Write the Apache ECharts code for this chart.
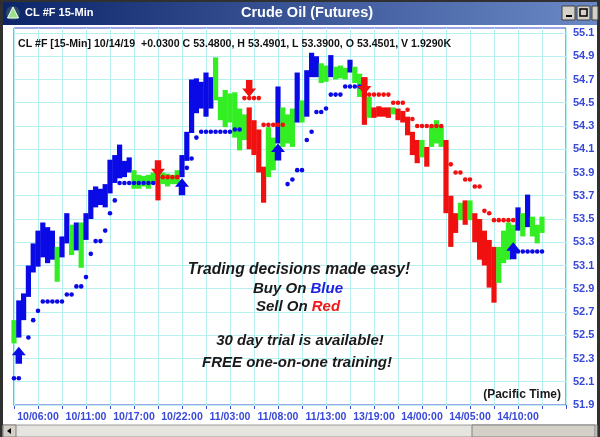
<!DOCTYPE html>
<html><head><meta charset="utf-8">
<script src="https://cdn.jsdelivr.net/npm/echarts@6/dist/echarts.min.js"></script>
<style>html,body{margin:0;padding:0;background:#fff;overflow:hidden}#c{width:600px;height:437px}</style>
</head><body><div id="c"></div>
<script>
// ---- data (30-minute bars) ----
const xTickLabels = ['10/06:00','10/11:00','10/17:00','10/22:00','11/03:00','11/08:00','11/13:00','13/19:00','14/00:00','14/05:00','14/10:00'];
const yTicks = [51.9,52.1,52.3,52.5,52.7,52.9,53.1,53.3,53.5,53.7,53.9,54.1,54.3,54.5,54.7,54.9,55.1];
const yMin = 51.9, yMax = 55.143;
const slotCount = 116;

const barLow = [
 52.43,52.48,52.63,52.83,53.04,53.09,53.17,53.12,53.15,52.96,
 53.17,53.29,53.19,53.23,53.08,53.32,53.50,53.60,53.62,53.60,
 53.72,53.81,53.85,53.86,53.90,53.76,53.76,53.78,53.76,53.80,
 53.66,53.80,53.78,53.80,53.80,53.86,54.00,54.24,54.41,54.45,
 54.38,54.45,54.52,54.35,54.29,54.33,54.20,54.09,54.18,54.10,
 54.05,53.90,53.64,53.86,53.92,54.15,54.12,54.15,54.12,54.33,
 54.33,54.38,54.72,54.72,54.67,54.68,54.72,54.70,54.71,54.70,
 54.76,54.67,54.55,54.31,54.37,54.37,54.38,54.38,54.37,54.40,
 54.35,54.33,54.22,54.05,53.98,54.03,53.95,54.12,54.15,54.12,
 53.55,53.26,53.38,53.49,53.45,53.49,53.30,53.15,53.10,52.91,
 52.78,52.95,53.12,53.15,53.20,53.40,53.35,53.43,53.35,53.29,53.38];
const barHigh = [
 52.63,52.80,52.86,53.10,53.29,53.40,53.47,53.43,53.40,53.26,
 53.35,53.55,53.45,53.47,53.47,53.55,53.75,53.78,53.76,53.80,
 54.01,54.05,54.14,54.00,54.03,53.92,53.88,53.87,53.88,53.90,
 53.92,53.90,53.89,53.88,53.92,54.05,54.25,54.70,54.71,54.68,
 54.76,54.72,54.89,54.55,54.61,54.58,54.59,54.45,54.40,54.46,
 54.35,54.27,53.95,54.29,54.20,54.64,54.46,54.40,54.45,54.76,
 54.52,54.78,54.93,54.90,54.84,54.82,54.91,54.81,54.82,54.80,
 54.87,54.81,54.75,54.72,54.55,54.46,54.47,54.46,54.46,54.46,
 54.45,54.43,54.38,54.25,54.18,54.18,54.12,54.30,54.35,54.30,
 54.18,53.70,53.55,53.64,53.66,53.66,53.55,53.50,53.40,53.32,
 53.26,53.26,53.40,53.47,53.45,53.60,53.55,53.71,53.52,53.45,53.52];
const barSignal = [
 'g','b','b','b','b','b','b','b','b','g',
 'b','b','g','b','g','b','b','b','b','b',
 'b','b','b','b','b','g','g','g','g','g',
 'r','g','g','g','g','b','b','b','b','b',
 'b','b','g','g','g','g','g','g','g','r',
 'r','r','r','g','g','b','g','g','g','b',
 'g','b','b','b','g','g','b','g','g','g',
 'b','g','g','r','g','r','r','r','r','g',
 'r','r','r','r','r','g','r','g','g','g',
 'r','r','r','g','r','g','r','r','r','r',
 'r','g','g','g','g','b','g','b','g','g','g'];
const N = null;
const buyStop = [
 52.13,52.13,N,52.48,52.63,52.71,52.79,52.79,52.79,52.79,
 52.79,52.85,52.85,52.92,52.92,53.00,53.20,53.31,53.31,53.40,
 53.55,53.66,53.81,53.81,53.81,53.81,53.81,53.81,53.81,53.81,
 N,N,N,N,N,N,53.94,54.02,54.20,54.25,
 54.25,54.25,54.25,54.25,54.25,54.25,54.27,54.27,N,N,
 N,N,N,N,N,N,N,53.80,53.84,53.92,
 53.92,54.18,54.25,54.42,54.42,54.45,54.57,54.57,54.57,54.64,
 54.64,54.64,54.64,N,N,N,N,N,N,N,
 N,N,N,N,N,N,N,N,N,N,
 N,N,N,N,N,N,N,N,N,N,
 N,N,N,N,N,53.22,53.22,53.22,53.22,53.22,53.22];
const sellStop = [
 N,N,N,N,N,N,N,N,N,N,
 N,N,N,N,N,N,N,N,N,N,
 N,N,N,N,N,N,N,N,N,N,
 53.86,53.86,53.86,53.86,53.86,N,N,N,N,N,
 N,N,N,N,N,N,N,N,54.54,54.54,
 54.54,54.54,54.31,54.31,54.31,54.31,54.31,N,N,N,
 N,N,N,N,N,N,N,N,N,N,
 N,N,N,N,54.57,54.57,54.57,54.57,54.57,54.50,
 54.50,54.50,54.44,54.36,54.30,54.30,54.30,54.30,54.30,54.30,
 54.11,53.97,53.90,53.90,53.84,53.84,53.78,53.78,53.57,53.55,
 53.49,53.49,53.49,53.49,53.49,N,N,N,N,N,N];
const buyArrowIdx = [1, 35, 55, 104];
const buyArrowVal = [52.40, 53.85, 54.15, 53.30];
const sellArrowIdx = [30, 49, 73];
const sellArrowVal = [53.86, 54.55, 54.57];
const lastClose = 53.48;
const lastStop = 53.22;
const headerText = 'CL #F [15-Min] 10/14/19  +0.0300 C 53.4800, H 53.4901, L 53.3900, O 53.4501, V 1.9290K';

// ---- chart ----
const COL = {b:'#0a0ae6', g:'#33ee22', r:'#f01010'};
const AXIS_BLUE = '#3848d8';
const GRID_CYAN = '#b8f0f2';
const categories = Array.from({length: slotCount}, (_, i) => String(i));
const FONT = '"Liberation Sans", Arial, sans-serif';

const barData = barLow.map((lo, i) => [i, lo, barHigh[i]]);
const toPts = arr => arr.map((v, i) => v == null ? null : [i, v]).filter(Boolean);

const chart = echarts.init(document.getElementById('c'), null, {renderer: 'canvas'});

const UP = 'path://M6.5,0 L13,8 L9.5,8 L9.5,16 L3.5,16 L3.5,8 L0,8 Z';
const DOWN = 'path://M3.5,0 L9.5,0 L9.5,8 L13,8 L6.5,16 L0,8 L3.5,8 Z';

chart.setOption({
  animation: false,
  backgroundColor: '#ffffff',
  grid: {left: 14, right: 34, top: 28, bottom: 32, show: true, borderColor: AXIS_BLUE, borderWidth: 1, backgroundColor: 'transparent'},
  xAxis: {
    type: 'category', data: categories, boundaryGap: false,
    axisLine: {show: true, onZero: false, lineStyle: {color: AXIS_BLUE}},
    axisTick: {show: true, interval: (i) => i % 5 === 0, length: 4, lineStyle: {color: AXIS_BLUE}},
    splitLine: {show: true, interval: (i) => i % 5 === 0, lineStyle: {color: GRID_CYAN, width: 1}},
    axisLabel: {
      interval: (i) => i >= 5 && (i - 5) % 10 === 0,
      formatter: (v, i) => xTickLabels[(i - 5) / 10] || '',
      color: AXIS_BLUE, fontWeight: 'bold', fontSize: 10.5, fontFamily: FONT, margin: 7
    }
  },
  yAxis: {
    type: 'value', position: 'right', min: yMin, max: yMax, scale: true,
    axisLine: {show: false}, axisTick: {show: false}, splitLine: {show: false},
    axisLabel: {customValues: yTicks, formatter: v => v.toFixed(1), color: AXIS_BLUE, fontWeight: 'bold', fontSize: 11, fontFamily: FONT, margin: 7}
  },
  series: [
    {
      type: 'scatter', data: [], silent: true,
      markLine: {silent: true, z: 1, symbol: ['none','none'], label: {show: false},
        lineStyle: {color: GRID_CYAN, type: 'solid', width: 1},
        data: yTicks.map(v => ({yAxis: v}))}
    },
    {
      type: 'custom', z: 3, data: barData, encode: {x: 0, y: [1, 2]},
      renderItem: (params, api) => {
        const i = api.value(0);
        const p1 = api.coord([i, api.value(2)]);
        const p2 = api.coord([i, api.value(1)]);
        const w = api.size([1, 0])[0];
        return {type: 'rect', shape: {x: p1[0] - w / 2 - 0.2, y: p1[1], width: w + 0.4, height: Math.max(p2[1] - p1[1], 2)},
          style: {fill: COL[barSignal[params.dataIndex]]}};
      },
      markLine: {silent: true, symbol: ['none','none'], lineStyle: {opacity: 0},
        data: [
          {yAxis: lastClose, label: {show: true, position: 'end', distance: 1, formatter: lastClose.toFixed(3), backgroundColor: '#44f03a', color: '#8a6ab8', padding: [3, 3, 2, 3], fontSize: 11, fontWeight: 'bold', fontFamily: FONT}},
          {yAxis: lastStop, label: {show: true, position: 'end', distance: 1, formatter: lastStop.toFixed(3), backgroundColor: '#0a0ad8', color: '#ffffff', padding: [3, 3, 2, 3], fontSize: 11, fontWeight: 'bold', fontFamily: FONT}}
        ]}
    },
    {type: 'scatter', z: 4, data: toPts(buyStop), symbol: 'circle', symbolSize: 4.6, itemStyle: {color: COL.b, opacity: 1}, silent: true},
    {type: 'scatter', z: 4, data: toPts(sellStop), symbol: 'circle', symbolSize: 4.6, itemStyle: {color: COL.r, opacity: 1}, silent: true},
    {type: 'scatter', z: 5, data: buyArrowIdx.map((j, k) => [j, buyArrowVal[k]]), symbol: UP, symbolSize: [14, 17], symbolOffset: [0, '50%'], itemStyle: {color: COL.b, opacity: 1}, silent: true},
    {type: 'scatter', z: 5, data: sellArrowIdx.map((j, k) => [j, sellArrowVal[k]]), symbol: DOWN, symbolSize: [14, 17], symbolOffset: [0, '-50%'], itemStyle: {color: COL.r, opacity: 1}, silent: true}
  ],
  graphic: [
    // window frame
    {type: 'rect', shape: {x: 0, y: 0, width: 600, height: 2}, style: {fill: '#303030'}, z: 100},
    {type: 'rect', shape: {x: 0, y: 0, width: 3, height: 437}, style: {fill: '#303030'}, z: 100},
    {type: 'rect', shape: {x: 597, y: 0, width: 3, height: 437}, style: {fill: '#303030'}, z: 100},
    // title bar
    {type: 'rect', shape: {x: 3, y: 2, width: 594, height: 23}, z: 100,
      style: {fill: new echarts.graphic.LinearGradient(0, 0, 1, 0, [{offset: 0, color: '#0c2468'}, {offset: 1, color: '#6a88c6'}])}},
    {type: 'circle', shape: {cx: 13, cy: 13, r: 7}, style: {fill: '#2a4a6a'}, z: 101},
    {type: 'polygon', shape: {points: [[13, 7], [18.5, 18], [7.5, 18]]}, style: {fill: '#9ae08a', stroke: '#ffffff', lineWidth: 1}, z: 102},
    {type: 'text', x: 25, y: 13, z: 101, style: {text: 'CL #F 15-Min', fill: '#ffffff', font: 'bold 11px ' + FONT, textVerticalAlign: 'middle'}},
    {type: 'text', x: 307, y: 13, z: 101, style: {text: 'Crude Oil (Futures)', fill: '#ffffff', font: 'bold 14.5px ' + FONT, textAlign: 'center', textVerticalAlign: 'middle'}},
    {type: 'rect', shape: {x: 562, y: 6, width: 13, height: 14}, style: {fill: '#d4d0c8', stroke: '#404040'}, z: 101},
    {type: 'rect', shape: {x: 566, y: 15, width: 6, height: 2}, style: {fill: '#000'}, z: 102},
    {type: 'rect', shape: {x: 577, y: 6, width: 13, height: 14}, style: {fill: '#d4d0c8', stroke: '#404040'}, z: 101},
    {type: 'rect', shape: {x: 580, y: 9, width: 7, height: 7}, style: {fill: 'none', stroke: '#000', lineWidth: 1.5}, z: 102},
    {type: 'rect', shape: {x: 592, y: 6, width: 6, height: 14}, style: {fill: '#d4d0c8', stroke: '#404040'}, z: 101},
    // header line
    {type: 'text', x: 18, y: 44, z: 50, style: {text: headerText, fill: '#111111', font: 'bold 10.6px ' + FONT, textVerticalAlign: 'middle'}},
    // promo text
    {type: 'text', x: 299, y: 270, z: 50, style: {text: 'Trading decisions made easy!', fill: '#1a1a1a', font: 'italic bold 15.6px ' + FONT, textAlign: 'center', textVerticalAlign: 'middle'}},
    {type: 'text', x: 298, y: 289, z: 50, style: {
      text: '{k|Buy On }{b|Blue}', textAlign: 'center', textVerticalAlign: 'middle',
      rich: {k: {fill: '#1a1a1a', font: 'italic bold 15px ' + FONT}, b: {fill: '#2020e0', font: 'italic bold 15px ' + FONT}}}},
    {type: 'text', x: 298, y: 307, z: 50, style: {
      text: '{k|Sell On }{r|Red}', textAlign: 'center', textVerticalAlign: 'middle',
      rich: {k: {fill: '#1a1a1a', font: 'italic bold 15px ' + FONT}, r: {fill: '#f01818', font: 'italic bold 15px ' + FONT}}}},
    {type: 'text', x: 300, y: 341, z: 50, style: {text: '30 day trial is available!', fill: '#1a1a1a', font: 'italic bold 15px ' + FONT, textAlign: 'center', textVerticalAlign: 'middle'}},
    {type: 'text', x: 297, y: 363, z: 50, style: {text: 'FREE one-on-one training!', fill: '#1a1a1a', font: 'italic bold 15px ' + FONT, textAlign: 'center', textVerticalAlign: 'middle'}},
    {type: 'text', x: 561, y: 395, z: 50, style: {text: '(Pacific Time)', fill: '#1a1a1a', font: 'bold 12px ' + FONT, textAlign: 'right', textVerticalAlign: 'middle'}},
    // bottom scroll bar
    {type: 'rect', shape: {x: 3, y: 425, width: 594, height: 12}, style: {fill: '#e6e4df', stroke: '#9a9a9a'}, z: 100},
    {type: 'rect', shape: {x: 3, y: 425, width: 13, height: 12}, style: {fill: '#d4d0c8', stroke: '#808080'}, z: 101},
    {type: 'polygon', shape: {points: [[7, 431], [11, 428], [11, 434]]}, style: {fill: '#000'}, z: 102},
    {type: 'rect', shape: {x: 472, y: 425, width: 123, height: 12}, style: {fill: '#d4d0c8', stroke: '#808080'}, z: 101}
  ]
});
</script></body></html>
